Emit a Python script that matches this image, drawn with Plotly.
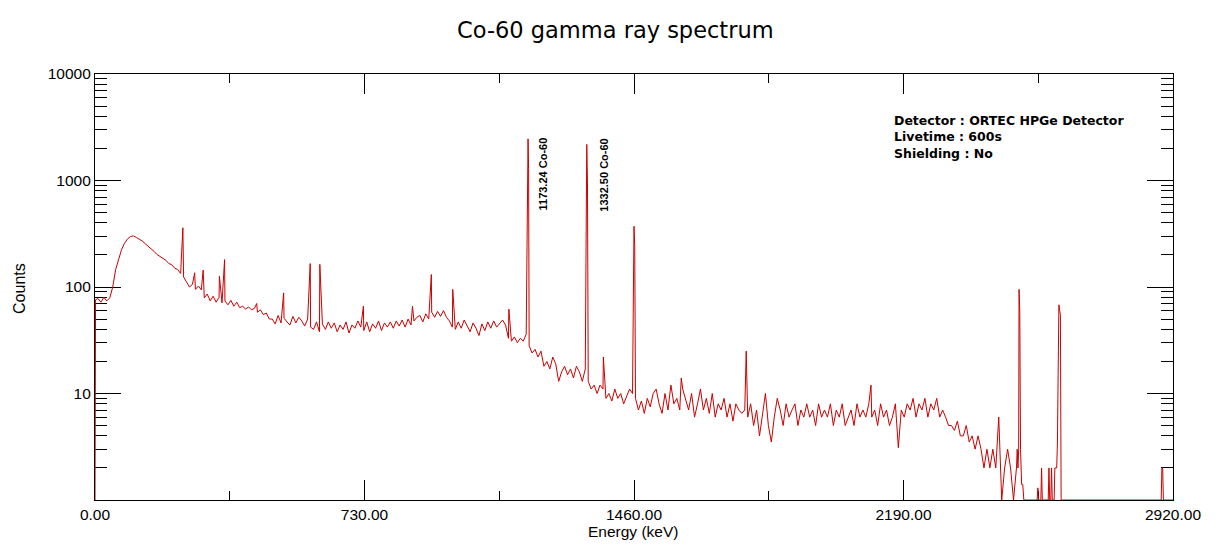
import numpy as np
import plotly.graph_objects as go

# ---------------- data ----------------
grid_step_keV = 8  # baseline channels every 8 keV starting at 0 keV

counts_0_392 = [
    0, 78, 72, 80, 74, 79, 100, 146, 180, 225,
    258, 282, 298, 302, 292, 281, 270, 255, 242, 226,
    216, 202, 194, 184, 178, 166, 162, 150, 146, 134,
    124, 112, 100, 106, 95, 102, 94, 79, 86, 74,
    82, 72, 80, 71, 74, 68, 75, 66, 72, 64,
]
counts_400_792 = [
    66, 62, 65, 61, 63, 58, 61, 55, 57, 50,
    50, 45, 54, 46, 51, 47, 44, 53, 46, 52,
    48, 43, 50, 42, 40, 47, 38, 45, 40, 47,
    41, 46, 38, 44, 40, 47, 37, 44, 41, 48,
    42, 39, 47, 38, 45, 41, 48, 39, 46, 42,
]
counts_800_1192 = [
    47, 41, 48, 43, 49, 42, 50, 44, 48, 52,
    54, 47, 56, 50, 58, 52, 59, 53, 60, 52,
    48, 42, 40, 47, 41, 49, 43, 38, 46, 41,
    35, 45, 39, 47, 41, 48, 42, 45, 49, 44,
    33, 31, 34, 30, 33, 31, 36, 28, 24, 26,
]
counts_1200_1592 = [
    22, 25, 18, 20, 17, 22, 19, 13, 16, 18,
    15, 17, 14, 18, 16, 13, 17, 13, 11, 12,
    10, 12, 11, 9, 10, 8.5, 11, 9, 10, 8,
    9.5, 11, 10, 9, 7, 8.5, 6.5, 9, 7.5, 10,
    11, 8, 6.5, 10, 7, 12, 8, 9, 7, 11,
]
counts_1600_1992 = [
    9, 7, 10, 6, 8, 11, 7, 9, 6.5, 10,
    6, 8, 7, 9, 6, 8, 5.5, 8, 7, 6.5,
    7, 6, 8, 5, 7, 4, 6, 10, 5, 3.5,
    6, 9, 7, 5, 8, 6, 7, 8, 5, 7,
    6, 8, 6, 7, 5, 8, 6, 7, 6, 8,
]
counts_2000_2496 = [
    5, 7, 6, 8, 5, 6, 7, 5, 8, 6,
    7, 6, 8, 6, 7, 5, 8, 6, 7, 5,
    6, 8, 3.1, 7, 6, 8, 7, 9, 6, 8,
    7, 9, 6, 8, 7, 9, 6, 7, 6, 5,
    5, 4.5, 5.5, 4, 4, 5, 3.5, 4, 3, 4,
    3, 2, 3, 2, 3, 2, 6, 0, 2, 3,
    2, 0, 2,
]

head_keV = [1.5]
head_counts = [76]

peak_keV = [238, 270, 293, 337, 351, 438, 511, 583, 609, 727, 860, 911, 969,
            1121, 1171, 1173, 1174.5, 1330, 1332, 1334, 1377,
            1458, 1460, 1462, 1588, 1764, 2102]
peak_counts = [360, 136, 144, 126, 181, 70, 88, 166, 163, 66, 66, 131, 95,
               62, 800, 2460, 1300, 700, 2180, 950, 22,
               180, 372, 240, 14, 25, 12]

tail_keV = [2498, 2500, 2502, 2503, 2505, 2507, 2510, 2513, 2516,
            2552, 2554, 2556, 2562, 2564, 2566, 2582, 2584, 2586,
            2589, 2591, 2593, 2598, 2600, 2605, 2607, 2609, 2611, 2613,
            2615, 2617, 2619, 2888, 2890, 2892, 2894, 2920]
tail_counts = [3, 2, 3, 95, 58, 3, 1.4, 1.4, 0,
               0, 1.3, 0, 0, 2, 0, 0, 2, 0,
               0, 2, 0, 0, 2, 2, 3.5, 17, 68, 60,
               55, 0, 0, 0, 2, 2, 0, 0]

x_major_ticks = [0, 730, 1460, 2190, 2920]
x_minor_ticks = [365, 1095, 1825, 2555]
y_major_ticks = [10, 100, 1000, 10000]
y_major_labels = ["10", "100", "1000", "10000"]

peak_labels = ["1173.24 Co-60", "1332.50 Co-60"]
info_lines = ["Detector : ORTEC HPGe Detector", "Livetime : 600s", "Shielding : No"]

# ---------------- assemble ----------------
grid_counts = (counts_0_392 + counts_400_792 + counts_800_1192 +
               counts_1200_1592 + counts_1600_1992 + counts_2000_2496)
grid_keV = list(np.arange(len(grid_counts)) * grid_step_keV)

E = np.array(grid_keV + head_keV + peak_keV + tail_keV, dtype=float)
C = np.array(grid_counts + head_counts + peak_counts + tail_counts, dtype=float)
order = np.argsort(E, kind="stable")
E, C = E[order], C[order]
C_plot = np.where(C > 0, C, 1.0)  # zero-count channels sit on the axis floor

y_minor = [m * 10 ** d for d in range(0, 4) for m in range(2, 10)]

fig = go.Figure()
fig.add_trace(go.Scatter(x=E, y=C_plot, mode="lines",
                         line=dict(color="#cc0000", width=1),
                         hoverinfo="skip", showlegend=False))

tick_font = dict(family="Liberation Sans, Arial, sans-serif", size=15.5, color="black")

# the page body adds an 8 px offset, so the margins compensate for it
fig.update_layout(
    width=1219, height=546,
    margin=dict(l=87, r=54, t=66, b=54),
    paper_bgcolor="white", plot_bgcolor="white",
    showlegend=False,
    xaxis=dict(
        range=[0, 2920], showgrid=False, zeroline=False,
        showline=True, linecolor="black", linewidth=1.2, mirror="ticks",
        ticks="inside", ticklen=20, tickwidth=1.2, tickcolor="black",
        tickmode="array", tickvals=x_major_ticks,
        ticktext=[f"{v:.2f}" for v in x_major_ticks],
        tickfont=tick_font, layer="below traces",
        minor=dict(tickmode="array", tickvals=x_minor_ticks, ticks="inside",
                   ticklen=9, tickwidth=1.2, tickcolor="black", showgrid=False),
    ),
    yaxis=dict(
        type="log", range=[0, 4], showgrid=False, zeroline=False,
        showline=True, linecolor="black", linewidth=1.2, mirror="ticks",
        ticks="inside", ticklen=26, tickwidth=1.2, tickcolor="black",
        tickmode="array", tickvals=y_major_ticks, ticktext=y_major_labels,
        tickfont=tick_font, layer="below traces",
        minor=dict(tickmode="array", tickvals=y_minor, ticks="inside",
                   ticklen=12, tickwidth=1.2, tickcolor="black", showgrid=False),
    ),
)

annotations = [
    dict(text="Co-60 gamma ray spectrum", xref="paper", yref="paper",
         x=0.4824, y=1.1033, xanchor="center", yanchor="middle", showarrow=False,
         font=dict(family="DejaVu Sans, sans-serif", size=22.5, color="black")),
    dict(text="Energy (keV)", xref="paper", yref="paper",
         x=0.499, y=-0.075, xanchor="center", yanchor="middle", showarrow=False,
         font=dict(family="Liberation Sans, Arial, sans-serif", size=15.5, color="black")),
    dict(text="Counts", xref="paper", yref="paper", textangle=-90,
         x=-0.0696, y=0.4977, xanchor="center", yanchor="middle", showarrow=False,
         font=dict(family="Liberation Sans, Arial, sans-serif", size=16, color="black")),
    dict(text="<b>%s</b>" % peak_labels[0], xref="x", yref="paper", textangle=-90,
         x=1213, y=0.766, xanchor="center", yanchor="middle", showarrow=False,
         font=dict(family="Liberation Sans, Arial, sans-serif", size=11, color="black")),
    dict(text="<b>%s</b>" % peak_labels[1], xref="x", yref="paper", textangle=-90,
         x=1378, y=0.763, xanchor="center", yanchor="middle", showarrow=False,
         font=dict(family="Liberation Sans, Arial, sans-serif", size=11, color="black")),
    dict(text="<br>".join("<b>%s</b>" % s for s in info_lines),
         xref="paper", yref="paper", x=0.739, y=0.8528,
         xanchor="left", yanchor="middle", align="left", showarrow=False,
         font=dict(family="DejaVu Sans, sans-serif", size=12.5, color="black")),
]
fig.update_layout(annotations=annotations)

fig.write_html("out.html")
